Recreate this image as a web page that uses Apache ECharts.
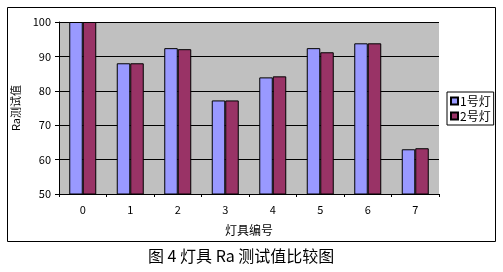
<!DOCTYPE html>
<html><head><meta charset="utf-8">
<script src="https://cdn.jsdelivr.net/npm/echarts@6/dist/echarts.min.js"></script>
<style>html,body{margin:0;padding:0;background:#fff}#c{width:503px;height:272px}</style>
</head><body><div id="c"></div>
<script>
var categories = ['0','1','2','3','4','5','6','7'];
var lamp1 = [100, 88, 92.4, 77.2, 83.9, 92.4, 93.8, 63.0];
var lamp2 = [100, 88, 92.1, 77.2, 84.2, 91.2, 93.8, 63.3];
var seriesNames = ['1号灯', '2号灯'];
var yTicks = {min: 50, max: 100, interval: 10};
var titleText = '图 4 灯具 Ra 测试值比较图';

var font = 'SimSun, "Noto Sans CJK SC", sans-serif';
var chart = echarts.init(document.getElementById('c'), null, {renderer: 'canvas'});
chart.setOption({
  animation: false,
  backgroundColor: '#fff',
  graphic: [
    {type: 'rect', shape: {x: 7.5, y: 7.5, width: 488, height: 234}, style: {fill: 'none', stroke: '#000', lineWidth: 1}, z: 0},
    {type: 'text', left: 148, top: 248, style: {text: titleText, font: '16px ' + font, fill: '#000', letterSpacing: 1.5}}
  ],
  legend: {
    orient: 'vertical', left: 447, top: 92,
    itemWidth: 7, itemHeight: 7, itemGap: 3,
    padding: [3, 3, 3, 3],
    borderColor: '#000', borderWidth: 1,
    textStyle: {fontSize: 12, fontFamily: font, color: '#000', padding: [0,0,0,-3]},
    icon: 'rect',
    data: seriesNames
  },
  grid: {left: 59, top: 22, width: 380, height: 172, backgroundColor: '#C0C0C0', show: true, borderWidth: 0},
  xAxis: {
    type: 'category', data: categories,
    name: '灯具编号', nameLocation: 'middle', nameGap: 30,
    nameTextStyle: {fontSize: 12, fontFamily: font, color: '#000'},
    axisLine: {lineStyle: {color: '#000'}},
    axisTick: {show: true, length: 3, lineStyle: {color: '#000'}},
    axisLabel: {fontSize: 11, fontFamily: font, color: '#000', margin: 10}
  },
  yAxis: {
    type: 'value', min: yTicks.min, max: yTicks.max, interval: yTicks.interval,
    name: 'Ra测试值', nameLocation: 'middle', nameGap: 34,
    nameTextStyle: {fontSize: 11, fontFamily: font, color: '#000'},
    axisLine: {show: true, lineStyle: {color: '#000'}},
    axisTick: {show: true, length: 4, lineStyle: {color: '#000'}},
    axisLabel: {fontSize: 11, fontFamily: font, color: '#000', margin: 8},
    splitLine: {show: true, lineStyle: {color: '#000', width: 1}}
  },
  series: [
    {name: seriesNames[0], type: 'bar', data: lamp1, barWidth: 13.5, barGap: '0%',
     itemStyle: {color: '#9999FF', borderColor: '#000', borderWidth: 1}},
    {name: seriesNames[1], type: 'bar', data: lamp2, barWidth: 13.5, barGap: '0%',
     itemStyle: {color: '#993366', borderColor: '#000', borderWidth: 1}}
  ]
});
</script></body></html>
